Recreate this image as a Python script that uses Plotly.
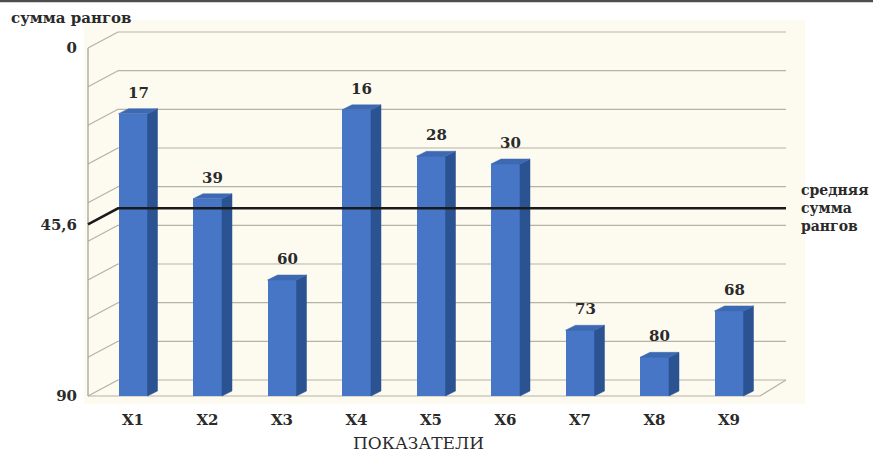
import plotly.graph_objects as go

# ---- data ----
categories = ["X1", "X2", "X3", "X4", "X5", "X6", "X7", "X8", "X9"]
rank_sums = [17, 39, 60, 16, 28, 30, 73, 80, 68]
mean_rank_sum = 45.6
y_max = 90
y_ticks = [0, 45.6, 90]
y_tick_text = ["0", "45,6", "90"]
grid_values = list(range(0, 91, 10))

# ---- geometry (pixels) ----
W, H = 873, 454
L, R, T, B = 84, 805, 20, 404
px_x = 74.5            # pixels per category
x1_px = 133            # pixel of first category
y0_px, y90_px = 48, 396
ppu = (y90_px - y0_px) / y_max

def xd(px):
    return 1 + (px - x1_px) / px_x

x_range = [xd(L), xd(R)]
y_range = [(B - y0_px) / ppu, -(y0_px - T) / ppu]   # reversed

x_front = xd(88)
x_front_r = xd(760)
ddx = 30 / px_x
ddy = 16 / ppu
x_back_r = xd(786)

bar_w = 29 / px_x
bdx = 10 / px_x
bdy = 5 / ppu

FRONT = "#4776C6"
SIDE = "#2B5392"
TOP = "#3D69B3"
GRID = "#B5B2A8"
TXT = "#2a2a2a"
FONT = "DejaVu Serif"

xs = list(range(1, len(categories) + 1))

fig = go.Figure()

# front faces of bars
fig.add_trace(go.Bar(
    x=xs, y=[y_max - v for v in rank_sums], base=rank_sums,
    width=bar_w, marker=dict(color=FRONT, line=dict(width=0)),
    hoverinfo="skip", showlegend=False))

# side and top faces
sx, sy, tx, ty = [], [], [], []
for x, v in zip(xs, rank_sums):
    r = x + bar_w / 2
    l = x - bar_w / 2
    sx += [r, r + bdx, r + bdx, r, r, None]
    sy += [v, v - bdy, y_max - bdy, y_max, v, None]
    tx += [l, l + bdx, r + bdx, r, l, None]
    ty += [v, v - bdy, v - bdy, v, v, None]
fig.add_trace(go.Scatter(x=sx, y=sy, mode="lines", fill="toself", fillcolor=SIDE,
                         line=dict(width=0.5, color=SIDE), hoverinfo="skip", showlegend=False))
fig.add_trace(go.Scatter(x=tx, y=ty, mode="lines", fill="toself", fillcolor=TOP,
                         line=dict(width=0.5, color=TOP), hoverinfo="skip", showlegend=False))

# mean line (front axis -> back wall -> across)
fig.add_trace(go.Scatter(
    x=[x_front, x_front + ddx, x_back_r],
    y=[mean_rank_sum, mean_rank_sum - ddy, mean_rank_sum - ddy],
    mode="lines", line=dict(color="#1a1a1a", width=2.5),
    hoverinfo="skip", showlegend=False))

shapes = []
# back wall gridlines and diagonal ticks
for g in grid_values:
    shapes.append(dict(type="line", xref="x", yref="y", layer="below",
                       x0=x_front + ddx, x1=x_back_r, y0=g - ddy, y1=g - ddy,
                       line=dict(color=GRID, width=1.2)))
    shapes.append(dict(type="line", xref="x", yref="y", layer="below",
                       x0=x_front, x1=x_front + ddx, y0=g, y1=g - ddy,
                       line=dict(color=GRID, width=1.2)))
# front axis line
shapes.append(dict(type="line", xref="x", yref="y", layer="below",
                   x0=x_front, x1=x_front, y0=0, y1=y_max,
                   line=dict(color="#a09d95", width=1.2)))
# floor front edge and right diagonal
shapes.append(dict(type="line", xref="x", yref="y", layer="below",
                   x0=x_front, x1=x_front_r, y0=y_max, y1=y_max,
                   line=dict(color=GRID, width=1.2)))
shapes.append(dict(type="line", xref="x", yref="y", layer="below",
                   x0=x_front_r, x1=x_back_r, y0=y_max, y1=y_max - ddy,
                   line=dict(color=GRID, width=1.2)))
# top border of the picture
shapes.append(dict(type="line", xref="paper", yref="paper",
                   x0=-L / (R - L), x1=(W - L) / (R - L),
                   y0=(B - 1) / (B - T), y1=(B - 1) / (B - T),
                   line=dict(color="#4d4d4d", width=2.5)))

annotations = []
for x, v in zip(xs, rank_sums):
    annotations.append(dict(x=x + bdx / 2, y=v - bdy, xref="x", yref="y",
                            text=str(v), showarrow=False, yanchor="bottom",
                            yshift=5, font=dict(family=FONT, size=15, color=TXT, weight="bold")))

def paper_x(px):
    return (px - L) / (R - L)

def paper_y(py):
    return (B - py) / (B - T)

annotations.append(dict(x=paper_x(9), y=paper_y(18), xref="paper", yref="paper",
                        text="сумма рангов", showarrow=False, xanchor="left", yanchor="middle",
                        font=dict(family=FONT, size=15, color=TXT, weight="bold")))
annotations.append(dict(x=paper_x(418), y=paper_y(443), xref="paper", yref="paper",
                        text="ПОКАЗАТЕЛИ", showarrow=False, xanchor="center", yanchor="middle",
                        font=dict(family=FONT, size=17, color=TXT)))
annotations.append(dict(x=xd(799), y=mean_rank_sum - ddy, xref="x", yref="y",
                        text="средняя<br>сумма<br>рангов", showarrow=False,
                        xanchor="left", yanchor="middle", align="left",
                        font=dict(family=FONT, size=14, color=TXT, weight="bold")))

fig.update_layout(
    width=W, height=H,
    margin=dict(l=L, r=W - R, t=T, b=H - B),
    paper_bgcolor="white", plot_bgcolor="#FDFAF0",
    shapes=shapes, annotations=annotations,
    xaxis=dict(range=x_range, tickvals=xs, ticktext=categories, showgrid=False,
               zeroline=False, showline=False, ticks="", ticklabelstandoff=5,
               tickfont=dict(family=FONT, size=15, color=TXT, weight="bold"), fixedrange=True),
    yaxis=dict(range=y_range, tickvals=y_ticks, ticktext=y_tick_text, showgrid=False,
               zeroline=False, showline=False, ticks="", ticklabelstandoff=6,
               tickfont=dict(family=FONT, size=15, color=TXT, weight="bold"), fixedrange=True),
    bargap=0,
)

fig.write_html("out.html")
